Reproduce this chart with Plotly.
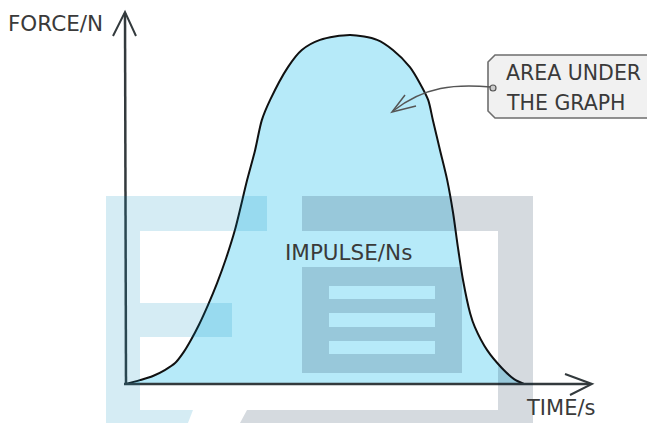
import plotly.graph_objects as go

# ---------------- data ----------------
time_s = [0, 0.35, 0.68, 0.98, 1.24, 1.46, 1.64, 1.84, 2.07, 2.30, 2.53, 2.75, 3.06,
          3.26, 3.43, 3.64, 4.09, 4.44, 4.90, 5.66, 6.34, 6.74, 7.17, 7.42, 7.63,
          7.75, 7.93, 8.11, 8.26, 8.38, 8.51, 8.69, 8.81, 9.12, 9.49, 9.80, 10.05]
force_n = [0, 0.11, 0.23, 0.40, 0.60, 0.92, 1.26, 1.69, 2.26, 2.89, 3.61, 4.41, 5.85,
           6.70, 7.56, 8.14, 9.08, 9.57, 9.86, 10.0, 9.86, 9.57, 9.08, 8.62, 8.14,
           7.56, 6.70, 5.85, 4.90, 3.93, 2.98, 2.03, 1.63, 0.97, 0.46, 0.14, 0]

y_label = "FORCE/N"
x_label = "TIME/s"
area_label = "IMPULSE/Ns"
callout_lines = ["AREA UNDER", "THE GRAPH"]

# ---------------- layout geometry ----------------
W, H = 647, 423
X0, Y0 = 126, 384          # pixel position of the origin
SX, SY = 39.6, 34.9        # pixels per unit

def P(x, y):
    return f"{x / W:.5f},{1 - y / H:.5f}"

def path(points, close=True):
    s = "M " + " L ".join(P(x, y) for x, y in points)
    return s + (" Z" if close else "")

def rect(x0, y0, x1, y1):
    return path([(x0, y0), (x1, y0), (x1, y1), (x0, y1)])

fig = go.Figure()
fig.add_trace(go.Scatter(
    x=time_s, y=force_n, mode="lines", fill="tozeroy",
    fillcolor="#b6eaf9",
    line=dict(color="#111111", width=2, shape="spline", smoothing=0.8),
    hoverinfo="skip", showlegend=False))

AX = "#333a3d"
shapes = []
# axes
shapes.append(dict(type="path", xref="paper", yref="paper", layer="above",
                   path=path([(126, 384), (125, 13)], close=False),
                   line=dict(color=AX, width=2.5)))
shapes.append(dict(type="path", xref="paper", yref="paper", layer="above",
                   path=path([(113, 36), (125, 12), (136, 36)], close=False),
                   line=dict(color=AX, width=2)))
shapes.append(dict(type="path", xref="paper", yref="paper", layer="above",
                   path=path([(124, 384), (590, 384)], close=False),
                   line=dict(color=AX, width=2.5)))
shapes.append(dict(type="path", xref="paper", yref="paper", layer="above",
                   path=path([(565, 374), (592, 384), (570, 395)], close=False),
                   line=dict(color=AX, width=2)))

# watermark (light blue E + grey frame)
blue_wm = "rgba(0,140,188,0.165)"
grey_wm = "rgba(0,31,61,0.165)"
shapes.append(dict(type="path", xref="paper", yref="paper", layer="above",
                   path=path([(106, 196), (267, 196), (267, 231), (140, 231), (140, 303),
                              (232, 303), (232, 337), (140, 337), (140, 410), (193, 410),
                              (188, 423), (106, 423)]),
                   fillcolor=blue_wm, line=dict(width=0)))
shapes.append(dict(type="path", xref="paper", yref="paper", layer="above",
                   path=path([(302, 196), (533, 196), (533, 423), (240, 423), (247, 410),
                              (498, 410), (498, 231), (302, 231)]),
                   fillcolor=grey_wm, line=dict(width=0)))
shapes.append(dict(type="path", xref="paper", yref="paper", layer="above",
                   path=rect(302, 267, 462, 373) + " " + rect(329, 286, 435, 299) + " "
                        + rect(329, 313, 435, 327) + " " + rect(329, 341, 435, 354),
                   fillcolor=grey_wm, fillrule="evenodd", line=dict(width=0)))

# callout box
shapes.append(dict(type="path", xref="paper", yref="paper", layer="above",
                   path=path([(488, 62), (495, 55), (660, 55), (660, 118), (495, 118), (488, 111)]),
                   fillcolor="#f1f1f1", line=dict(color="#6e6e6e", width=1.6)))
# callout connector
shapes.append(dict(type="path", xref="paper", yref="paper", layer="above",
                   path=f"M {P(491, 87)} C {P(455, 84)} {P(425, 86)} {P(393, 111)}",
                   line=dict(color="#555555", width=1.5)))
shapes.append(dict(type="path", xref="paper", yref="paper", layer="above",
                   path=path([(405, 95), (392, 112), (416, 106)], close=False),
                   line=dict(color="#555555", width=1.5)))
shapes.append(dict(type="circle", xref="paper", yref="paper", layer="above",
                   x0=490 / W, x1=496 / W, y0=1 - 91 / H, y1=1 - 85 / H,
                   fillcolor="#cccccc", line=dict(color="#555555", width=1.2)))

FONT = dict(family="DejaVu Sans", size=21.5, color="#3a3a3a")
ann = []
def label(text, x, y, size=21.5):
    ann.append(dict(text=text, x=x / W, y=1 - y / H, xref="paper", yref="paper",
                    xanchor="left", yanchor="middle", showarrow=False,
                    font=dict(FONT, size=size)))

label(y_label, 6, 24)
label(x_label, 524, 408, 21)
label(area_label, 283, 252)
label(callout_lines[0], 504, 73, 20.5)
label(callout_lines[1], 504, 103, 20.5)

fig.update_layout(
    width=W, height=H, margin=dict(l=0, r=0, t=0, b=0),
    paper_bgcolor="white", plot_bgcolor="white",
    xaxis=dict(range=[(0 - X0) / SX, (W - X0) / SX], visible=False, fixedrange=True),
    yaxis=dict(range=[(Y0 - H) / SY, Y0 / SY], visible=False, fixedrange=True),
    shapes=shapes, annotations=ann, showlegend=False)

fig.write_html("out.html", config={"displayModeBar": False},
               post_script="document.body.style.margin='0px';document.body.style.overflow='hidden';")
